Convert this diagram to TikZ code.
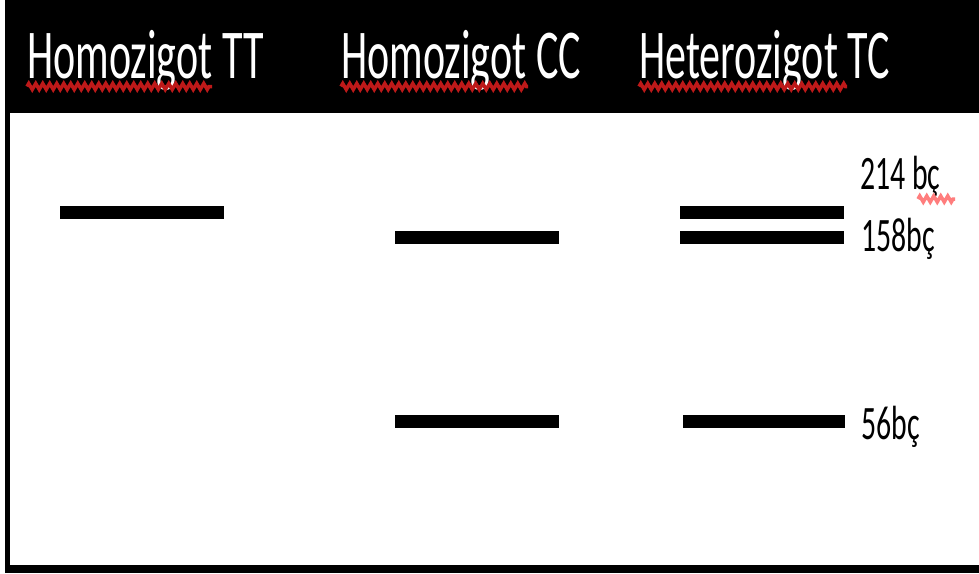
\documentclass[tikz,border=0pt]{standalone}
\usepackage{fontspec}
\setmainfont{Carlito}
\usetikzlibrary{decorations.pathmorphing}
\definecolor{squig}{RGB}{190,25,25}
\definecolor{squigpink}{RGB}{255,125,125}
\tikzset{
  band/.style={fill=black, draw=none, minimum height=13pt, inner sep=0pt, minimum width=164pt},
  head/.style={text=white, anchor=base west, inner sep=0pt, font=\fontsize{70}{70}\selectfont},
  lab/.style={text=black, anchor=base west, inner sep=0pt, font=\fontsize{48}{48}\selectfont},
  squiggle/.style={draw=squig, line width=3.5pt, decorate, decoration={zigzag, segment length=7pt, amplitude=3pt}}
}
\begin{document}
\begin{tikzpicture}[x=1pt,y=-1pt]
\useasboundingbox (0,0) rectangle (979,573);
\fill[white] (0,0) rectangle (979,573);
% header and frame
\fill[black] (5,0) rectangle (979,113);
\fill[black] (5,113) rectangle (10,573);
\fill[black] (5,565) rectangle (979,573);
% header texts
\node[head] (h1) at (27,78) {\scalebox{0.6}[1]{Homozigot TT}};
\node[head] (h2) at (341,78) {\scalebox{0.6}[1]{Homozigot CC}};
\node[head] (h3) at (639,78) {\scalebox{0.6}[1]{Heterozigot TC}};
\draw[squiggle] (27,86.5) -- (212,86.5);
\draw[squiggle] (341,86.5) -- (528,86.5);
\draw[squiggle] (639,86.5) -- (847,86.5);
% bands
\node[band] (tt1) at (142,212.5) {};
\node[band] (cc1) at (476.5,237) {};
\node[band] (cc2) at (476.5,421.5) {};
\node[band] (tc1) at (761.5,212.5) {};
\node[band] (tc2) at (761.5,237) {};
\node[band, minimum width=162pt] (tc3) at (764,421.5) {};
% labels
\node[lab] (l214) at (860,189) {\scalebox{0.62}[1]{214 bç}};
\draw[squiggle, draw=squigpink, line width=3.5pt, decoration={zigzag, segment length=7pt, amplitude=3pt}] (918,199) -- (955,199);
\node[lab] (l158) at (861,251) {\scalebox{0.62}[1]{158bç}};
\node[lab] (l56) at (861,439) {\scalebox{0.62}[1]{56bç}};
\end{tikzpicture}
\end{document}
